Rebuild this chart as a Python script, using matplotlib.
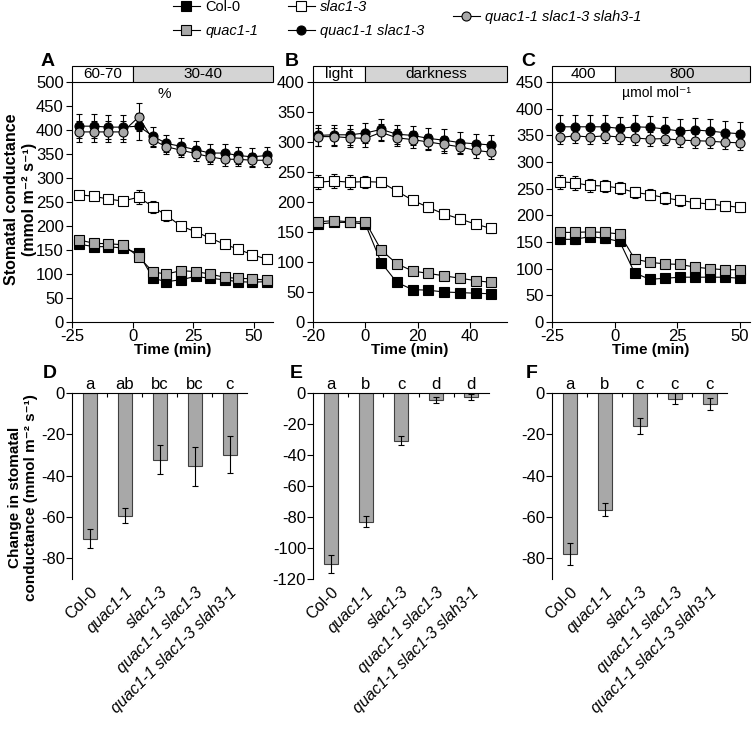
import matplotlib
matplotlib.use('Agg')
import matplotlib.pyplot as plt
import matplotlib.transforms as mtransforms
from matplotlib.patches import Rectangle
from matplotlib.lines import Line2D
from matplotlib.ticker import FixedLocator

plt.rcParams['font.family'] = ['Liberation Sans', 'DejaVu Sans']
plt.rcParams['font.size'] = 11
plt.rcParams['axes.unicode_minus'] = False

# 数据：A 湿度 (%)
times_a = [-22, -16, -10, -4, 2.5, 8.5, 14, 20, 26, 32, 38, 43.5, 49.5, 55.5]
col0_a = [162, 157, 157, 154, 143, 91, 84, 88, 95, 91, 88, 84, 83, 84]
quac_a = [171, 164, 163, 161, 136, 104, 100, 107, 105, 100, 93, 91, 90, 87]
slac_a = [265, 262, 256, 252, 260, 240, 222, 200, 188, 175, 162, 152, 140, 131]
qs_a = [408, 408, 406, 406, 408, 387, 372, 366, 359, 352, 352, 347, 344, 347]
qss_a = [396, 396, 396, 396, 427, 379, 365, 358, 351, 344, 339, 339, 337, 337]
col0_a_err = [5, 5, 5, 5, 8, 6, 5, 5, 5, 5, 5, 5, 5, 5]
quac_a_err = [5, 5, 5, 5, 6, 6, 5, 5, 5, 5, 5, 5, 5, 5]
slac_a_err = [8, 7, 8, 9, 14, 12, 11, 9, 8, 7, 6, 6, 6, 6]
qs_a_err = [25, 25, 25, 25, 28, 20, 18, 18, 18, 18, 18, 18, 18, 18]
qss_a_err = [22, 22, 22, 22, 30, 15, 15, 15, 15, 15, 15, 15, 15, 15]

# 数据：B 光照/黑暗
times_b = [-18, -12, -6, 0, 6, 12, 18, 24, 30, 36, 42, 48]
col0_b = [163, 166, 166, 163, 99, 66, 54, 53, 50, 49, 48, 47]
quac_b = [167, 169, 167, 167, 120, 97, 85, 81, 77, 73, 69, 66]
slac_b = [233, 235, 233, 234, 233, 218, 203, 191, 180, 172, 163, 156]
qs_b = [311, 312, 312, 315, 321, 313, 311, 306, 303, 299, 297, 295]
qss_b = [309, 309, 307, 306, 316, 307, 304, 300, 296, 292, 286, 283]
col0_b_err = [4, 4, 4, 4, 4, 3, 3, 3, 3, 3, 3, 3]
quac_b_err = [4, 4, 4, 4, 4, 3, 3, 3, 3, 3, 3, 3]
slac_b_err = [12, 12, 12, 10, 8, 8, 7, 7, 8, 8, 7, 7]
qs_b_err = [17, 17, 17, 17, 17, 16, 16, 18, 18, 18, 17, 17]
qss_b_err = [15, 15, 15, 14, 14, 14, 14, 14, 14, 12, 12, 12]

# 数据：C CO2 (µmol mol-1)
times_c = [-22, -16, -10, -4, 2, 8, 14, 20, 26, 32, 38, 44, 50]
col0_c = [155, 155, 160, 157, 151, 92, 80, 82, 84, 84, 84, 84, 82]
quac_c = [168, 168, 169, 168, 165, 118, 112, 109, 108, 103, 100, 98, 98]
slac_c = [263, 261, 256, 255, 251, 243, 239, 233, 228, 224, 221, 218, 215]
qs_c = [366, 366, 366, 366, 363, 366, 365, 362, 358, 360, 358, 355, 353]
qss_c = [346, 349, 347, 349, 347, 345, 343, 344, 341, 340, 339, 337, 336]
col0_c_err = [8, 8, 7, 8, 8, 6, 4, 4, 4, 4, 4, 4, 4]
quac_c_err = [5, 5, 5, 5, 5, 5, 5, 5, 5, 5, 5, 5, 5]
slac_c_err = [13, 13, 12, 12, 11, 11, 11, 11, 10, 9, 9, 9, 9]
qs_c_err = [22, 22, 22, 22, 22, 22, 22, 22, 22, 22, 22, 22, 22]
qss_c_err = [13, 13, 13, 13, 13, 13, 13, 13, 13, 13, 13, 13, 13]

# 柱状图数据
genotypes = ['Col-0', 'quac1-1', 'slac1-3', 'quac1-1 slac1-3', 'quac1-1 slac1-3 slah3-1']
change_d = [-70.5, -59.3, -32.2, -35.4, -29.8]
change_d_err = [4.5, 3.7, 7, 9.5, 9]
letters_d = ['a', 'ab', 'bc', 'bc', 'c']
change_e = [-110.3, -83, -30.8, -4.7, -2.8]
change_e_err = [6, 3.6, 3, 2, 2]
letters_e = ['a', 'b', 'c', 'd', 'd']
change_f = [-78.1, -56.4, -15.8, -2.7, -5.3]
change_f_err = [5.3, 3.3, 3.8, 2.5, 2.8]
letters_f = ['a', 'b', 'c', 'c', 'c']

gray = '#a8a8a8'
styles = [('s', 'black'), ('s', gray), ('s', 'white'), ('o', 'black'), ('o', gray)]

fig = plt.figure(figsize=(7.53, 7.29), dpi=100)

W, H = 753.0, 729.0
def box(left, right, top, bottom):
    return [left / W, 1 - bottom / H, (right - left) / W, (bottom - top) / H]

ax_a = fig.add_axes(box(72, 273, 82, 322))
ax_b = fig.add_axes(box(313, 507, 82, 322))
ax_c = fig.add_axes(box(552, 750, 82, 322))
ax_d = fig.add_axes(box(72, 247, 393, 579))
ax_e = fig.add_axes(box(313, 489, 393, 579))
ax_f = fig.add_axes(box(552, 727, 393, 579))

# 折线图
line_panels = [
    (ax_a, times_a, [col0_a, quac_a, slac_a, qs_a, qss_a],
     [col0_a_err, quac_a_err, slac_a_err, qs_a_err, qss_a_err],
     (-25, 58), 500, [-25, 0, 25, 50], ('60-70', '30-40')),
    (ax_b, times_b, [col0_b, quac_b, slac_b, qs_b, qss_b],
     [col0_b_err, quac_b_err, slac_b_err, qs_b_err, qss_b_err],
     (-20, 54), 400, [-20, 0, 20, 40], ('light', 'darkness')),
    (ax_c, times_c, [col0_c, quac_c, slac_c, qs_c, qss_c],
     [col0_c_err, quac_c_err, slac_c_err, qs_c_err, qss_c_err],
     (-25, 54), 450, [-25, 0, 25, 50], ('400', '800')),
]

for ax, t, series, errs, xlim, ytop, xticks, heads in line_panels:
    for (m, fc), y, e in zip(styles, series, errs):
        ax.errorbar(t, y, yerr=e, fmt='-', color='black', lw=0.8,
                    marker=m, markersize=6.5, markerfacecolor=fc,
                    markeredgecolor='black', markeredgewidth=0.8,
                    ecolor='black', elinewidth=0.8, capsize=2, capthick=0.8)
    ax.set_xlim(xlim)
    ax.set_ylim(0, ytop)
    ax.set_xticks(xticks)
    ax.set_yticks(range(0, ytop + 1, 50))
    ax.spines['top'].set_visible(False)
    ax.spines['right'].set_visible(False)
    ax.tick_params(direction='out', length=4, width=0.8, labelsize=12)
    ax.tick_params(axis='y', pad=2)
    ax.tick_params(axis='x', pad=1)
    ax.set_xlabel('Time (min)', fontweight='bold', fontsize=11, labelpad=-1)
    tr = mtransforms.blended_transform_factory(ax.transData, ax.transAxes)
    ax.add_patch(Rectangle((xlim[0], 1.0), 0 - xlim[0], 0.067, transform=tr,
                           facecolor='white', edgecolor='black', lw=0.8, clip_on=False))
    ax.add_patch(Rectangle((0, 1.0), xlim[1], 0.067, transform=tr,
                           facecolor='#d4d4d4', edgecolor='black', lw=0.8, clip_on=False))
    ax.text(xlim[0] / 2, 1.033, heads[0], transform=tr, ha='center', va='center', fontsize=11)
    ax.text(xlim[1] / 2, 1.033, heads[1], transform=tr, ha='center', va='center', fontsize=11)

ax_a.text(0.46, 0.95, '%', transform=ax_a.transAxes, ha='center', va='center', fontsize=11)
ax_c.text(0.53, 0.955, 'µmol mol⁻¹', transform=ax_c.transAxes, ha='center', va='center', fontsize=10)
ax_a.set_ylabel('Stomatal conductance\n(mmol m⁻² s⁻¹)', fontweight='bold', fontsize=11.5)
ax_a.yaxis.set_label_coords(-0.175, 0.51)

# 柱状图
bar_panels = [
    (ax_d, change_d, change_d_err, letters_d, -90, range(-80, 1, 20)),
    (ax_e, change_e, change_e_err, letters_e, -120, range(-120, 1, 20)),
    (ax_f, change_f, change_f_err, letters_f, -90, range(-80, 1, 20)),
]
for ax, vals, errs, lets, ybot, yt in bar_panels:
    x = range(len(genotypes))
    ax.bar(x, vals, width=0.4, color=gray, edgecolor='#404040', lw=0.8,
           yerr=errs, error_kw=dict(ecolor='black', elinewidth=0.8, capsize=2.5, capthick=0.8))
    ax.set_xlim(-0.5, 4.5)
    ax.set_ylim(ybot, 0)
    ax.set_yticks(list(yt))
    ax.spines['bottom'].set_visible(False)
    ax.spines['right'].set_visible(False)
    ax.set_xticks(list(x))
    ax.set_xticklabels(genotypes, rotation=45, ha='right', rotation_mode='anchor', fontsize=11.5)
    for lab in ax.get_xticklabels()[1:]:
        lab.set_style('italic')
    ax.tick_params(axis='x', which='major', length=0, pad=4)
    ax.xaxis.set_minor_locator(FixedLocator([0.5, 1.5, 2.5, 3.5]))
    ax.tick_params(axis='x', which='minor', top=True, bottom=False, direction='in', length=3, width=0.8)
    ax.tick_params(axis='y', direction='out', length=4, width=0.8, labelsize=12, pad=1)
    for i, l in enumerate(lets):
        ax.text(i, 1.045, l, transform=mtransforms.blended_transform_factory(ax.transData, ax.transAxes),
                ha='center', va='center', fontsize=12)

ax_d.set_ylabel('Change in stomatal\nconductance (mmol m⁻² s⁻¹)', fontweight='bold', fontsize=11)
ax_d.yaxis.set_label_coords(-0.195, 0.44)

# 面板字母
for lab, px, py in [('A', 48, 61), ('B', 292, 61), ('C', 528, 61),
                    ('D', 50, 373), ('E', 296, 373), ('F', 532, 373)]:
    fig.text(px / W, 1 - py / H, lab, fontweight='bold', fontsize=14, ha='center', va='center')

# 图例
def handle(m, fc):
    return Line2D([], [], color='black', lw=0.8, marker=m, markersize=6.5,
                  markerfacecolor=fc, markeredgecolor='black', markeredgewidth=0.8)

leg_items = [
    ([0, 1], 173, 0),
    ([2, 3], 288, 0),
    ([4], 453, 10),
]
for idx, px, py in leg_items:
    leg = fig.legend([handle(*styles[i]) for i in idx], [genotypes[i] for i in idx],
                     loc='upper left', bbox_to_anchor=(px / W, 1 - py / H), frameon=False,
                     borderpad=0, borderaxespad=0, handlelength=1.85, handletextpad=0.35,
                     labelspacing=0.7, fontsize=10.5)
    for txt in leg.get_texts():
        if txt.get_text() != 'Col-0':
            txt.set_style('italic')

plt.savefig('out.png', dpi=100)
